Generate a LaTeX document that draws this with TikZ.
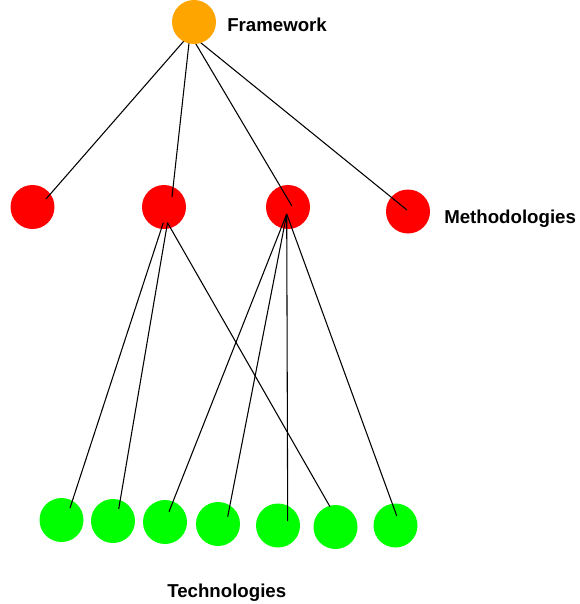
\documentclass[tikz,border=0pt]{standalone}
\usepackage{fontspec}
\setmainfont{Liberation Sans}
\usepackage{tikz}
\usetikzlibrary{positioning}
\definecolor{fworange}{RGB}{255, 165, 0}
\definecolor{methred}{RGB}{255, 0, 0}
\definecolor{techgreen}{RGB}{0, 255, 0}
\pgfdeclarelayer{front}
\pgfsetlayers{main,front}

\begin{document}
\begin{tikzpicture}[x=0.75pt, y=-0.75pt,
    dot/.style={circle, draw=none, minimum size=33pt, inner sep=0pt},
    lbl/.style={font=\fontsize{14}{16}\selectfont\bfseries, anchor=base west, inner sep=0pt},
    link/.style={line width=0.8pt, black}]
  \useasboundingbox (0,0) rectangle (579,604);

  % Methodologies
  \foreach \n/\x/\y in {m1/32.5/207, m2/164/207, m3/288/207, m4/408/211.5}{
    \node[dot, fill=methred] (\n) at (\x,\y) {};
  }
  % Technologies
  \foreach \n/\x/\y in {t1/61.5/520, t2/113/521, t3/165/522, t4/218/524,
                        t5/278/525.5, t6/335.5/527, t7/395.5/525.5}{
    \node[dot, fill=techgreen] (\n) at (\x,\y) {};
  }
  % Framework sits over its own links
  \begin{pgfonlayer}{front}
    \node[dot, fill=fworange] (fw) at (194,22) {};
  \end{pgfonlayer}

  % Labels
  \node[lbl] (lfw) at (227,31.5) {Framework};
  \node[lbl] (lm) at (444,223.5) {Methodologies};
  \node[lbl] (lt) at (167,597) {Technologies};

  % Framework to methodologies
  \foreach \n/\dx/\dy in {m1/13.5/-8, m2/8/-10, m3/3.7/-1.3, m4/-1/-1.5}{
    \draw[link] ([shift={(-4,12)}]fw.center) -- ([shift={(\dx,\dy)}]\n.center);
  }
  % Methodologies to technologies
  \foreach \a/\ax/\ay/\b/\bx/\by in {m2/-0.7/15.7/t1/8.5/-12, m2/3.5/15.7/t2/5.7/-12,
      m2/3.5/15.7/t6/-5.5/-20.3, m3/-1.3/7/t3/4/-10.3, m3/-1.3/7/t4/9.7/-7.3,
      m3/-1.3/7/t5/9.7/-4.5, m3/-1.3/7/t7/1.2/-9.8}{
    \draw[link] ([shift={(\ax,\ay)}]\a.center) -- ([shift={(\bx,\by)}]\b.center);
  }
\end{tikzpicture}
\end{document}
